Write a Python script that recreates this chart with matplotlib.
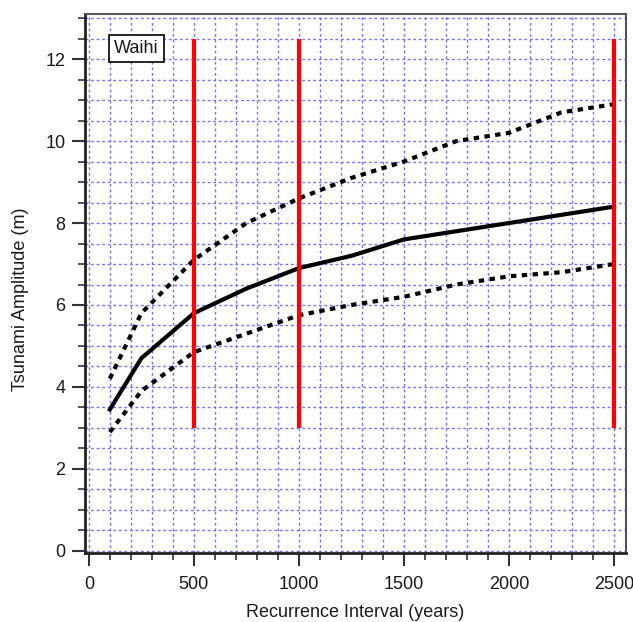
import matplotlib
matplotlib.use("Agg")
import matplotlib.pyplot as plt
from matplotlib.ticker import MultipleLocator

# recurrence intervals (years) and tsunami amplitudes (m)
years = [100, 250, 500, 750, 1000, 1250, 1500, 1750, 2000, 2250, 2500]
median = [3.45, 4.7, 5.8, 6.4, 6.9, 7.2, 7.6, 7.8, 8.0, 8.2, 8.4]
upper = [4.2, 5.8, 7.1, 8.0, 8.6, 9.1, 9.5, 10.0, 10.2, 10.7, 10.9]
lower = [2.9, 3.9, 4.85, 5.3, 5.75, 6.0, 6.2, 6.5, 6.7, 6.8, 7.0]

marker_years = [500, 1000, 2500]
marker_bottom = 3
marker_top = 12.5

location = "Waihi"

plt.rcParams["font.family"] = ["Liberation Sans", "DejaVu Sans"]
text_color = "#1a1a1a"
fs = 13

fig = plt.figure(figsize=(6.33, 6.22), dpi=100)
ax = fig.add_axes([0.134, 0.111, 0.855, 0.8665])

ax.plot(years, upper, color="black", lw=3, linestyle=(0, (1.3, 1.3)), zorder=3)
ax.plot(years, lower, color="black", lw=3, linestyle=(0, (1.3, 1.3)), zorder=3)
ax.plot(years, median, color="black", lw=3, zorder=3)
ax.vlines(marker_years, marker_bottom, marker_top, colors="#ff0000", lw=3, zorder=4)

ax.set_xlim(-19, 2557)
ax.set_ylim(-0.05, 13.1)
ax.xaxis.set_major_locator(MultipleLocator(500))
ax.xaxis.set_minor_locator(MultipleLocator(100))
ax.yaxis.set_major_locator(MultipleLocator(2))
ax.yaxis.set_minor_locator(MultipleLocator(0.5))

ax.grid(which="both", color="#7272ff", linestyle=(0, (2, 2)), lw=1, zorder=0)
ax.set_axisbelow(True)

ax.tick_params(which="major", direction="out", length=9.4, width=1.5,
               color="#333333", labelsize=fs, labelcolor=text_color)
ax.tick_params(which="minor", direction="out", length=5, width=1.2, color="#333333")
ax.tick_params(axis="x", which="major", pad=7.5)
ax.tick_params(axis="y", which="major", pad=4.5)

for side in ["left", "bottom"]:
    ax.spines[side].set_linewidth(2)
    ax.spines[side].set_color("#222222")
for side in ["top", "right"]:
    ax.spines[side].set_linewidth(1.5)
    ax.spines[side].set_color("#555555")

ax.set_xlabel("Recurrence Interval (years)", fontsize=fs, color=text_color)
ax.set_ylabel("Tsunami Amplitude (m)", fontsize=fs, color=text_color)
ax.xaxis.set_label_coords(0.5, -0.094)
ax.yaxis.set_label_coords(-0.1035, 0.47)

ax.text(0.095, 0.9276, location, transform=ax.transAxes, fontsize=fs,
        color=text_color, va="baseline", ha="center", zorder=5,
        bbox=dict(boxstyle="square,pad=0.3", fc="white", ec="black", lw=1.2))

fig.savefig("out.png", dpi=100)
